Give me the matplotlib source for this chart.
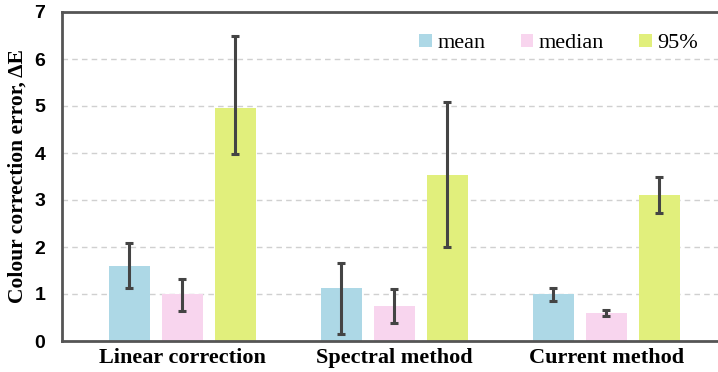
import numpy as np
import matplotlib
matplotlib.use("Agg")
import matplotlib.pyplot as plt

categories = ["Linear correction", "Spectral method", "Current method"]
series = ["mean", "median", "95%"]
mean_vals = [1.60, 1.13, 1.00]
mean_lo = [1.13, 0.15, 0.85]
mean_hi = [2.08, 1.65, 1.12]
median_vals = [1.00, 0.75, 0.60]
median_lo = [0.64, 0.38, 0.53]
median_hi = [1.32, 1.10, 0.67]
p95_vals = [4.95, 3.53, 3.10]
p95_lo = [3.97, 2.00, 2.73]
p95_hi = [6.50, 5.08, 3.48]

colors = ["#add8e6", "#f8d5ee", "#e1ef7c"]

fig = plt.figure(figsize=(7.18, 3.72), dpi=100)
ax = fig.add_axes([62 / 718, 1 - 341 / 372, 656 / 718, 329 / 372])

x = np.arange(len(categories))
width = 0.193
offset = 0.25
data = [(mean_vals, mean_lo, mean_hi), (median_vals, median_lo, median_hi),
        (p95_vals, p95_lo, p95_hi)]
for i, (vals, lo, hi) in enumerate(data):
    vals = np.array(vals)
    yerr = [vals - np.array(lo), np.array(hi) - vals]
    ax.bar(x + (i - 1) * offset, vals, width, color=colors[i], label=series[i],
           yerr=yerr, error_kw=dict(ecolor="#444444", elinewidth=2.2, capsize=3,
                                    capthick=2.2), zorder=2)

ax.set_xlim(-0.568, 2.526)
ax.set_ylim(0, 7)
ax.set_yticks(range(8))
ax.yaxis.grid(True, linestyle=(0, (4, 3)), color="#d0d0d0", linewidth=1, zorder=0)
ax.set_axisbelow(True)
ax.tick_params(length=0)
ax.set_xticks(x)
ax.set_xticklabels(categories, fontfamily="Liberation Serif", fontweight="bold", fontsize=16)
for lab in ax.get_yticklabels():
    lab.set_fontfamily("Liberation Sans")
    lab.set_fontweight("bold")
    lab.set_fontsize(14)
ax.tick_params(axis="y", pad=12)
ax.tick_params(axis="x", pad=5)
ax.set_ylabel("Colour correction error, ΔE", fontfamily="Liberation Serif",
              fontweight="bold", fontsize=15.5, va="center")
ax.yaxis.set_label_coords(-0.067, 0.5)

for side in ["left", "top", "bottom"]:
    ax.spines[side].set_color("#555555")
    ax.spines[side].set_linewidth(2)
ax.spines["right"].set_visible(False)

ax.legend(ncol=3, loc="upper right", bbox_to_anchor=(1.0, 0.995), frameon=False,
          prop=dict(family="Liberation Serif", size=16), handlelength=0.55,
          handleheight=0.55, handletextpad=0.25, columnspacing=1.6)

plt.savefig("out.png", dpi=100)
